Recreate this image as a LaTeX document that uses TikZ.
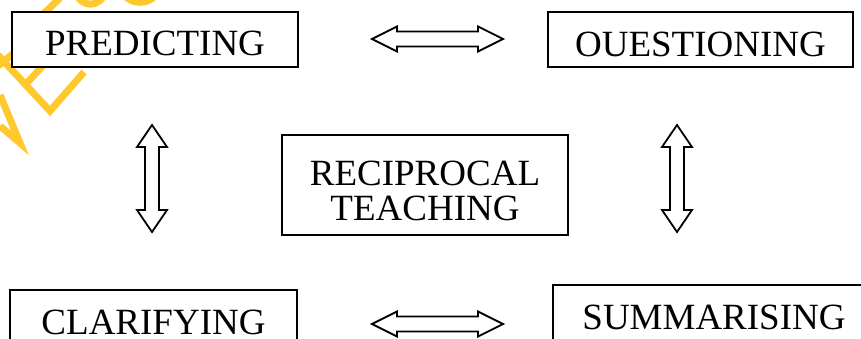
\documentclass[tikz,border=0pt]{standalone}
\usepackage{fontspec}
\setmainfont{Liberation Serif}
\definecolor{wmyellow}{RGB}{255,200,45}
\begin{document}
\begin{tikzpicture}[x=1pt,y=-1pt,
  box/.style={draw=black, line width=1.8pt, fill=white, rectangle, inner sep=0pt,
    font=\fontsize{37}{35}\selectfont},
  arrowline/.style={draw=black, line width=1.8pt, fill=white, line join=miter},
  wm/.style={draw=wmyellow, line width=7pt, line cap=butt, line join=miter},
  hdbl/.pic={\path[arrowline] (-65.5,0) -- (-40.5,-12.5) -- (-40.5,-7.5) -- (40.5,-7.5) -- (40.5,-12.5)
      -- (65.5,0) -- (40.5,12.5) -- (40.5,7.5) -- (-40.5,7.5) -- (-40.5,12.5) -- cycle;},
  vdbl/.pic={\path[arrowline] (0,-53.5) -- (15,-31.5) -- (7,-31.5) -- (7,31.5) -- (15,31.5)
      -- (0,53.5) -- (-15,31.5) -- (-7,31.5) -- (-7,-31.5) -- (-15,-31.5) -- cycle;}]
\useasboundingbox (0,0) rectangle (861,339);
% watermark fragments
\begin{scope}[wm]
  \draw (0,95) -- (20,143) -- (0,126);
  \draw (-2,55) -- (50,111) -- (84,72);
  \draw (26,84) -- (50,58);
  \draw (-2,66) -- (20,48);
  \draw (35,22) -- (60,-2);
  \draw (78,-3) .. controls (84,6) and (96,7) .. (103,-3);
  \draw (126,-3) .. controls (134,4) and (146,4) .. (154,-3);
\end{scope}
% boxes
\node[box, minimum width=286pt, minimum height=55pt, text height=33pt, text depth=0pt] (pred) at (155,39.5) {PREDICTING};
\node[box, minimum width=305pt, minimum height=55pt, text height=34pt, text depth=0pt] (ques) at (700.5,39.5) {OUESTIONING};
\node[box, minimum width=286pt, minimum height=100pt, align=center] (recip) at (425,185) {\rule{0pt}{37pt}RECIPROCAL\\TEACHING};
\node[box, minimum width=287pt, minimum height=65pt] (clar) at (153.5,322.5) {CLARIFYING};
\node[box, minimum width=322pt, minimum height=64pt] (summ) at (714,317) {SUMMARISING};
% double arrows
\pic (top) at (437.5,39) {hdbl};
\pic (bot) at (437.5,324) {hdbl};
\pic (lft) at (152,178.5) {vdbl};
\pic (rgt) at (677,178.5) {vdbl};
\end{tikzpicture}
\end{document}
